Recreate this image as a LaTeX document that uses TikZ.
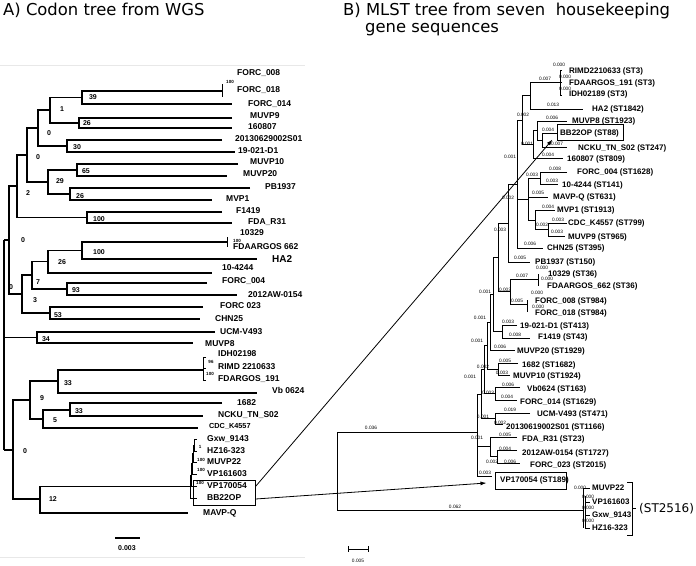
\documentclass[tikz,border=0pt]{standalone}
\usepackage{fontspec}
\setmainfont{Liberation Sans}
\newfontfamily\tfont{DejaVu Sans}
\usetikzlibrary{arrows.meta,calc}
\newcommand{\mybr}[5]{\draw (#3,#2) -- (#1,#2) -- (#1,#4) -- (#5,#4);}
\tikzset{
  ll/.style={anchor=west, inner sep=0pt, font=\fontsize{8.5}{9}\selectfont\bfseries},
  rl/.style={anchor=west, inner sep=0pt, font=\fontsize{8}{9}\selectfont\bfseries},
  bs/.style={inner sep=0pt, font=\fontsize{7}{8}\selectfont\bfseries},
  tb/.style={inner sep=0pt, font=\fontsize{4.5}{5}\selectfont\bfseries},
  bl/.style={inner sep=0pt, font=\fontsize{4.8}{5}\selectfont},
  ttl/.style={anchor=base west, inner sep=0pt, font=\tfont\fontsize{16.4}{18}\selectfont},
  boxn/.style={draw, line width=1pt, inner sep=0pt},
  arr/.style={line width=0.8pt, -{Latex[length=6pt,width=4pt]}}
}
\begin{document}
\begin{tikzpicture}[x=1pt,y=-1pt]
\useasboundingbox (0,0) rectangle (696,565);
\fill[white] (0,0) rectangle (696,565);
% titles
\node[ttl] (tA) at (3,15) {A) Codon tree from WGS};
\node[ttl] (tB1) at (343,15) {B) MLST tree from seven~ housekeeping};
\node[ttl] (tB2) at (365,32) {gene sequences};
% faint frame of panel A
\draw[gray!18, line width=0.6pt] (0,65) -- (305,65);
\draw[gray!18, line width=0.6pt] (0,557) -- (305,557);

% ===== Left tree =====
\begin{scope}[line width=1.3pt]
\draw (4,240) -- (4,450);
\draw (4,240) -- (9,240);
\draw (4,337.5) -- (37,337.5);
\draw (4,450) -- (13,450);
\mybr{9}{186}{17}{294}{22}
\mybr{17}{155}{27}{217.5}{87}
\mybr{27}{128}{38}{182}{48}
\mybr{38}{110}{50}{146}{67}
\mybr{50}{97.5}{82}{123}{79}
\mybr{82}{91}{222}{104}{232}
\mybr{79}{118}{232}{128}{232}
\mybr{67}{140}{222}{152}{235}
\mybr{48}{170}{77}{194}{70}
\mybr{77}{164}{238}{176}{227}
\mybr{70}{188}{250}{200}{212}
\mybr{87}{212}{222}{223}{232}
\mybr{22}{275}{32}{313}{50}
\mybr{32}{261.5}{48}{289}{67}
\mybr{48}{250.5}{82}{273}{212}
\mybr{82}{242}{227}{259}{257}
\mybr{67}{283}{207}{295}{237}
\mybr{50}{307}{203}{319}{200}
\mybr{37}{332}{215}{343}{193}
\mybr{13}{400}{30}{499}{40}
\mybr{30}{381}{58}{419}{43}
\mybr{58}{370}{203}{393}{257}
\mybr{43}{410}{70}{428}{198}
\mybr{70}{403}{222}{416}{203}
\mybr{40}{486.5}{190}{513}{188}
\end{scope}
\begin{scope}[line width=1pt]
\draw (222,84) -- (222,97);
\draw (227,237) -- (227,247);
\draw (206,357) -- (203,357) -- (203,380) -- (206,380);
\draw (203,368) -- (206,368);
\mybr{194}{439}{197}{451}{197}
\mybr{193}{445}{194}{462}{197}
\mybr{192}{453.5}{193}{474}{197}
\mybr{191}{463.75}{192}{486}{197}
\mybr{190}{475}{191}{498}{197}
\end{scope}
% left box
\node[boxn, minimum width=62pt, minimum height=25pt] (lbox) at (224,492.5) {};
% left leaf labels
\node[ll] (a1) at (237,73) {FORC\_008};
\node[ll] (a2) at (237,90) {FORC\_018};
\node[ll] (a3) at (248,104) {FORC\_014};
\node[ll] (a4) at (250,116) {MUVP9};
\node[ll] (a5) at (248,127) {160807};
\node[ll] (a6) at (235,139) {20130629002S01};
\node[ll] (a7) at (238,151) {19-021-D1};
\node[ll] (a8) at (250,162) {MUVP10};
\node[ll] (a9) at (243,174) {MUVP20};
\node[ll] (a10) at (265,187) {PB1937};
\node[ll] (a11) at (226,199) {MVP1};
\node[ll] (a12) at (236,211) {F1419};
\node[ll] (a13) at (248,222) {FDA\_R31};
\node[ll] (a14) at (240,233) {10329};
\node[ll] (a15) at (233,247) {FDAARGOS 662};
\node[anchor=west, inner sep=0pt, font=\fontsize{10}{11}\selectfont\bfseries] (a16) at (272,259) {HA2};
\node[ll] (a17) at (222,268) {10-4244};
\node[ll] (a18) at (222,281) {FORC\_004};
\node[ll] (a19) at (248,295) {2012AW-0154};
\node[ll] (a20) at (220,306) {FORC 023};
\node[ll] (a21) at (215,319) {CHN25};
\node[ll] (a22) at (220,332) {UCM-V493};
\node[ll] (a23) at (205,344) {MUVP8};
\node[ll] (a24) at (218,354) {IDH02198};
\node[ll] (a25) at (218,367) {RIMD 2210633};
\node[ll] (a26) at (218,379) {FDARGOS\_191};
\node[ll] (a27) at (272,390) {Vb 0624};
\node[ll] (a28) at (237,403) {1682};
\node[ll] (a29) at (218,415) {NCKU\_TN\_S02};
\node[anchor=west, inner sep=0pt, font=\fontsize{7.3}{8}\selectfont\bfseries] (a30) at (209,426) {CDC\_K4557};
\node[ll] (a31) at (207,439) {Gxw\_9143};
\node[ll] (a32) at (207,451) {HZ16-323};
\node[ll] (a33) at (207,462) {MUVP22};
\node[ll] (a34) at (207,474) {VP161603};
\node[ll] (a35) at (207,486) {VP170054};
\node[ll] (a36) at (207,498) {BB22OP};
\node[ll] (a37) at (203,513) {MAVP-Q};
% bootstrap labels
\node[bs] (b1) at (93,97) {39};
\node[bs] (b2) at (62,109) {1};
\node[bs] (b3) at (87,123) {26};
\node[bs] (b4) at (49,133) {0};
\node[bs] (b5) at (77,147) {30};
\node[bs] (b6) at (38,157) {0};
\node[bs] (b7) at (86,171) {65};
\node[bs] (b8) at (60,181) {29};
\node[bs] (b9) at (28,193) {2};
\node[bs] (b10) at (80,196) {26};
\node[bs] (b11) at (99,219) {100};
\node[bs] (b12) at (23,240) {0};
\node[bs] (b13) at (99,252) {100};
\node[bs] (b14) at (62,262) {26};
\node[bs] (b15) at (38,282) {7};
\node[bs] (b16) at (11,287) {0};
\node[bs] (b17) at (76,290) {93};
\node[bs] (b18) at (35,300) {3};
\node[bs] (b19) at (58,315) {53};
\node[bs] (b20) at (46,339) {34};
\node[bs] (b21) at (68,383) {33};
\node[bs] (b22) at (42,398) {9};
\node[bs] (b23) at (79,411) {33};
\node[bs] (b24) at (55,420) {5};
\node[bs] (b25) at (25,451) {0};
\node[bs] (b26) at (53,499) {12};
\node[tb] (c1) at (230,82) {100};
\node[tb] (c2) at (237,241) {100};
\node[tb] (c3) at (211,362) {96};
\node[tb] (c4) at (210,374) {100};
\node[tb] (c5) at (200,447) {1};
\node[tb] (c6) at (201,460) {100};
\node[tb] (c7) at (201,470) {100};
\node[tb] (c8) at (200,483) {100};
% left scale bar
\draw[line width=1.3pt] (115,538) -- (140,538);
\node[bs] (sA) at (127,548) {0.003};

% ===== Right tree =====
\begin{scope}[line width=0.8pt]
\draw (337,432) -- (337,510);
\draw (337,432) -- (477,432);
\draw (337,510) -- (583,510);
\mybr{530}{82}{560}{109}{583}
\draw (560,70) -- (560,95);
\draw (560,70) -- (562,70); \draw (560,82) -- (562,82); \draw (560,95) -- (562,95);
\mybr{537}{121}{567}{140}{542}
\mybr{542}{133}{557}{147}{567}
\mybr{533}{130.5}{537}{158}{563}
\mybr{522}{95.5}{530}{144}{533}
\mybr{540}{172}{567}{184}{558}
\mybr{548}{223}{567}{236}{565}
\mybr{535}{210}{555}{229.5}{548}
\mybr{528}{178}{540}{220}{535}
\draw (528,197) -- (548,197);
\mybr{517}{120}{522}{248}{543}
\draw (517,199) -- (528,199);
\mybr{508}{184}{517}{262}{530}
\mybr{510}{279}{538}{304}{527}
\draw (538,274) -- (538,286);
\draw (527,300) -- (527,312);
\mybr{498}{223}{508}{291.5}{510}
\mybr{502}{325}{517}{338}{530}
\mybr{493}{257}{498}{331.5}{502}
\mybr{490}{294}{493}{350}{515}
\mybr{498}{363}{518}{375}{510}
\mybr{487}{322}{490}{369}{498}
\mybr{495}{387}{520}{400}{517}
\mybr{484}{345.5}{487}{393.5}{495}
\mybr{495}{413}{530}{424}{503}
\mybr{481}{369.5}{484}{418.5}{495}
\mybr{497}{450}{517}{463}{520}
\mybr{490}{437}{517}{456.5}{497}
\mybr{477}{394}{481}{476}{492}
\draw (477,446.5) -- (490,446.5);
% ST2516 cluster
\draw (583,488) -- (583,528);
\draw (585,496) -- (585,528);
\draw (583,488) -- (590,488);
\draw (585,502) -- (590,502);
\draw (585,515) -- (590,515);
\draw (585,528) -- (590,528);
\draw (627,482) -- (632,482) -- (632,535) -- (627,535);
\draw (632,508.5) -- (636,508.5);
\end{scope}
% right boxes
\node[boxn, minimum width=66pt, minimum height=16pt] (rbox1) at (590,132) {};
\node[boxn, minimum width=71pt, minimum height=17pt] (rbox2) at (530.5,480.5) {};
% right leaf labels
\node[rl] (r1) at (569,71) {RIMD2210633 (ST3)};
\node[rl] (r2) at (569,83) {FDAARGOS\_191 (ST3)};
\node[rl] (r3) at (569,94) {IDH02189 (ST3)};
\node[rl] (r4) at (592,109) {HA2 (ST1842)};
\node[rl] (r5) at (572,121) {MUVP8 (ST1923)};
\node[rl] (r6) at (560,133) {BB22OP (ST88)};
\node[rl] (r7) at (578,148) {NCKU\_TN\_S02 (ST247)};
\node[rl] (r8) at (567,159) {160807 (ST809)};
\node[rl] (r9) at (577,172) {FORC\_004 (ST1628)};
\node[rl] (r10) at (562,185) {10-4244 (ST141)};
\node[rl] (r11) at (553,197) {MAVP-Q (ST631)};
\node[rl] (r12) at (557,210) {MVP1 (ST1913)};
\node[rl] (r13) at (568,223) {CDC\_K4557 (ST799)};
\node[rl] (r14) at (568,237) {MUVP9 (ST965)};
\node[rl] (r15) at (547,248) {CHN25 (ST395)};
\node[rl] (r16) at (535,262) {PB1937 (ST150)};
\node[rl] (r17) at (548,274) {10329 (ST36)};
\node[rl] (r18) at (547,286) {FDAARGOS\_662 (ST36)};
\node[rl] (r19) at (535,301) {FORC\_008 (ST984)};
\node[rl] (r20) at (535,313) {FORC\_018 (ST984)};
\node[rl] (r21) at (520,326) {19-021-D1 (ST413)};
\node[rl] (r22) at (538,337) {F1419 (ST43)};
\node[rl] (r23) at (517,351) {MUVP20 (ST1929)};
\node[rl] (r24) at (522,365) {1682 (ST1682)};
\node[rl] (r25) at (513,376) {MUVP10 (ST1924)};
\node[rl] (r26) at (527,389) {Vb0624 (ST163)};
\node[rl] (r27) at (520,402) {FORC\_014 (ST1629)};
\node[rl] (r28) at (537,414) {UCM-V493 (ST471)};
\node[rl] (r29) at (506,427) {20130619002S01 (ST1166)};
\node[rl] (r30) at (522,439) {FDA\_R31 (ST23)};
\node[rl] (r31) at (522,453) {2012AW-0154 (ST1727)};
\node[rl] (r32) at (530,465) {FORC\_023 (ST2015)};
\node[rl] (r33) at (500,480) {VP170054 (ST189)};
\node[rl] (r34) at (592,488) {MUVP22};
\node[rl] (r35) at (592,502) {VP161603};
\node[rl] (r36) at (592,515) {Gxw\_9143};
\node[rl] (r37) at (592,528) {HZ16-323};
\node[anchor=west, inner sep=0pt, font=\tfont\fontsize{12}{13}\selectfont] (st) at (639,509) {(ST2516)};
% branch lengths
\foreach \p/\t in {{559,65}/0.000, {565,77}/0.000, {565,88.5}/0.000, {545,79}/0.007, {553,105}/0.013,
  {523,115}/0.002, {552,118}/0.006, {548,130}/0.004, {527,144}/0.001, {557,144}/0.007,
  {510,157}/0.001, {548,155}/0.004, {555,169}/0.008, {532,175}/0.003, {552,181}/0.003,
  {538,193}/0.005, {508,198}/0.002, {548,207}/0.004, {558,220}/0.003, {542,225}/0.002,
  {557,232}/0.003, {500,230}/0.003, {530,244}/0.006, {520,258}/0.005, {542,268}/0.000,
  {522,276}/0.007, {547,279}/0.000, {505,290}/0.003, {485,292}/0.001, {537,293}/0.000,
  {517,301}/0.005, {538,307}/0.000, {480,318}/0.001, {508,322}/0.003, {515,335}/0.008,
  {477,341}/0.001, {500,347}/0.006, {505,361}/0.005, {483,367}/0.002, {502,373}/0.003,
  {470,377}/0.001, {508,385}/0.006, {488,393}/0.003, {507,397}/0.004, {510,410}/0.019,
  {483,417}/0.001, {500,423}/0.002, {477,438}/0.001, {505,435}/0.005, {505,449}/0.004,
  {492,462}/0.002, {510,462}/0.006, {485,473}/0.003, {371,428}/0.036, {455,507}/0.062,
  {580,488}/0.000, {588,497}/0.000, {588,508}/0.000, {588,521}/0.000}
  \node[bl] at (\p) {\t};
% right scale bar
\draw[line width=0.8pt] (348,546) -- (348,552) (368,546) -- (368,552) (348,549) -- (368,549);
\node[bl] (sB) at (358,561) {0.005};
% arrows from left box to right boxes
\coordinate (s1) at ($(lbox.east)+(0,-6)$);
\coordinate (s2) at ($(lbox.east)+(0,6.5)$);
\coordinate (e1) at ($(rbox1.south west)+(-4,-1)$);
\coordinate (e2) at ($(rbox2.west)+(-8,2.5)$);
\draw[arr] (s1) -- (e1);
\draw[arr] (s2) -- (e2);
\end{tikzpicture}
\end{document}
